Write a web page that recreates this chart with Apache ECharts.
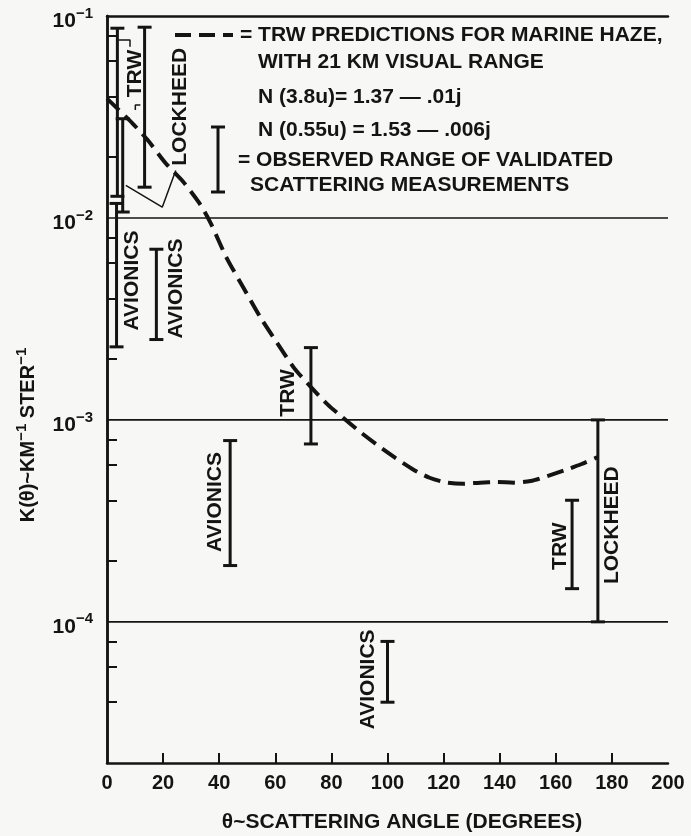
<!DOCTYPE html>
<html>
<head>
<meta charset="utf-8">
<script src="https://cdn.jsdelivr.net/npm/echarts@6/dist/echarts.min.js"></script>
<style>
html, body { margin: 0; padding: 0; background: #f7f7f5; }
#chart { width: 691px; height: 836px; }
</style>
</head>
<body>
<div id="chart"></div>
<script>
// TRW prediction for marine haze, 21 km visual range (dashed curve)
var curveAngle = [0, 4, 9, 14.5, 21, 27, 33, 37, 42.5, 48.7, 54.8, 60.7, 66.8, 72.8, 78.7, 83.6, 90.8, 100,
  109, 115, 121, 127, 133, 139, 145, 151, 157, 163, 169, 175]
var curveK = [0.039, 0.0345, 0.0295, 0.0243, 0.0186, 0.0152, 0.0118, 0.0094, 0.0064, 0.0045, 0.0032, 0.0024,
  0.0018, 0.00145, 0.00119, 0.00104, 0.00086, 0.00069, 0.00057, 0.000517, 0.00049, 0.000483, 0.000489,
  0.000492, 0.000489, 0.000498, 0.000527, 0.000562, 0.000603, 0.000655]

// observed ranges of validated scattering measurements (I bars)
var barSource = ['TRW', 'LOCKHEED', 'AVIONICS', 'TRW', 'AVIONICS', 'AVIONICS', 'TRW', 'AVIONICS', 'TRW', 'LOCKHEED']
var barAngle = [3.7, 5.6, 3.4, 13.4, 17.6, 43.9, 72.7, 100, 165.8, 175]
var barLow = [0.0128, 0.0107, 0.0023, 0.0142, 0.0025, 0.00019, 0.00076, 0.00004, 0.000146, 0.0001]
var barHigh = [0.087, 0.031, 0.0118, 0.088, 0.007, 0.00079, 0.00228, 0.00008, 0.0004, 0.001]

// source labels next to the bars
var labelText = ['TRW', 'LOCKHEED', 'AVIONICS', 'AVIONICS', 'TRW', 'AVIONICS', 'TRW', 'LOCKHEED', 'AVIONICS']
var labelAngle = [10.2, 26.2, 8.9, 24.7, 64.5, 38.4, 161.7, 180.1, 93.2]
var labelK = [0.0519, 0.0355, 0.0049, 0.00447, 0.00136, 0.000392, 0.000237, 0.000301, 0.0000519]

// leader lines from the labels
var lockheedLeader = [[24.5, 0.0172], [19.7, 0.0113], [6.7, 0.0145]]
var trwBracketTop = [[4.1, 0.076], [8.2, 0.076], [8.2, 0.0705]]
var trwBracketBottom = [[11.9, 0.0362], [10.1, 0.0362], [10.1, 0.0342]]

var xTicks = [20, 40, 60, 80, 100, 120, 140, 160, 180]
var yLabels = [0.1, 0.01, 0.001, 0.0001]
var yMinorTicks = [0.08, 0.06, 0.04, 0.02, 0.008, 0.006, 0.004, 0.002,
  0.0008, 0.0006, 0.0004, 0.0002, 0.00008, 0.00006, 0.00004]
var gridValues = [0.01, 0.001, 0.0001]

var ink = '#141414'
var font = '"Liberation Sans", Arial, sans-serif'

var chart = echarts.init(document.getElementById('chart'))

function leader(points) {
  return {
    type: 'line',
    data: points,
    symbol: 'none',
    silent: true,
    z: 3,
    lineStyle: { color: ink, width: 1.5 }
  }
}

function legendText(x, y, text) {
  return {
    type: 'text', x: x, y: y,
    style: { text: text, fill: ink, fontSize: 21, fontWeight: 'bold', fontFamily: font, verticalAlign: 'middle' }
  }
}

chart.setOption({
  backgroundColor: '#f7f7f5',
  animation: false,
  grid: {
    left: 107,
    right: 23,
    top: 16,
    bottom: 73,
    containLabel: false,
    outerBoundsMode: 'none'
  },
  xAxis: [{
    type: 'value',
    min: 0,
    max: 200,
    interval: 20,
    axisLine: { lineStyle: { color: ink, width: 2.5 } },
    axisTick: { inside: true, length: 10, customValues: xTicks, lineStyle: { color: ink, width: 2 } },
    axisLabel: { margin: 10, color: ink, fontSize: 20, fontWeight: 'bold', fontFamily: font },
    splitLine: { show: false }
  }, {
    type: 'value',
    position: 'top',
    min: 0,
    max: 200,
    axisLine: { show: true, lineStyle: { color: ink, width: 2.5 } },
    axisTick: { show: false },
    axisLabel: { show: false },
    splitLine: { show: false }
  }],
  yAxis: [{
    type: 'log',
    logBase: 10,
    min: 0.00002,
    max: 0.1,
    axisLine: { show: true, lineStyle: { color: ink, width: 2.5 } },
    axisTick: { inside: true, length: 10, customValues: yMinorTicks, lineStyle: { color: ink, width: 2 } },
    axisLabel: {
      customValues: yLabels,
      margin: 14,
      padding: [10, 0, 0, 0],
      color: ink,
      formatter: function (v) {
        var e = Math.round(Math.log(v) / Math.LN10)
        return '{b|10}{s|\u2212' + (-e) + '}'
      },
      rich: {
        b: { fontSize: 21, fontWeight: 'bold', fontFamily: font, color: ink, lineHeight: 30 },
        s: { fontSize: 15, fontWeight: 'bold', fontFamily: font, color: ink, verticalAlign: 'top', lineHeight: 15 }
      }
    },
    splitLine: { show: false },
    minorTick: { show: false }
  }, {
    type: 'log',
    logBase: 10,
    position: 'right',
    min: 0.00002,
    max: 0.1,
    axisLine: { show: true, lineStyle: { color: ink, width: 2.5 } },
    axisTick: { show: false },
    axisLabel: { show: false },
    splitLine: { show: false }
  }],
  graphic: [
    // legend: dashed curve
    { type: 'line', shape: { x1: 175, y1: 35, x2: 233, y2: 35 },
      style: { stroke: ink, lineWidth: 4, lineDash: [16, 8] } },
    legendText(240, 35, '= TRW PREDICTIONS FOR MARINE HAZE,'),
    legendText(258, 62, 'WITH 21 KM VISUAL RANGE'),
    legendText(258, 97, 'N (3.8u)= 1.37 \u2014 .01j'),
    legendText(258, 130, 'N (0.55u) = 1.53 \u2014 .006j'),
    // legend: I bar
    { type: 'line', shape: { x1: 218, y1: 127, x2: 218, y2: 192 }, style: { stroke: ink, lineWidth: 3 } },
    { type: 'line', shape: { x1: 211, y1: 127, x2: 225, y2: 127 }, style: { stroke: ink, lineWidth: 3 } },
    { type: 'line', shape: { x1: 211, y1: 192, x2: 225, y2: 192 }, style: { stroke: ink, lineWidth: 3 } },
    legendText(238, 160, '= OBSERVED RANGE OF VALIDATED'),
    legendText(250, 185, 'SCATTERING MEASUREMENTS'),
    // axis names
    { type: 'text', x: 402, y: 822, style: { text: '\u03b8~SCATTERING ANGLE (DEGREES)', fill: ink,
      fontSize: 21, fontWeight: 'bold', fontFamily: font, align: 'center', verticalAlign: 'middle' } },
    { type: 'text', x: 28, y: 435, rotation: Math.PI / 2,
      style: {
        text: '{m|K(\u03b8)~KM}{s|\u22121}{m| STER}{s|\u22121}',
        align: 'center',
        verticalAlign: 'middle',
        rich: {
          m: { fontSize: 20, fontWeight: 'bold', fontFamily: font, fill: ink, lineHeight: 28 },
          s: { fontSize: 15, fontWeight: 'bold', fontFamily: font, fill: ink, verticalAlign: 'top', lineHeight: 15 }
        }
      } }
  ],
  series: [{
    // decade grid lines across the plot
    name: 'Decades',
    type: 'custom',
    silent: true,
    z: 1,
    data: gridValues,
    renderItem: function (params, api) {
      var a = api.coord([0, api.value(0)])
      var b = api.coord([200, api.value(0)])
      return { type: 'line', shape: { x1: a[0], y1: a[1], x2: b[0], y2: b[1] }, style: { stroke: ink, lineWidth: 1.6 } }
    }
  }, {
    name: 'TRW prediction',
    type: 'line',
    data: curveAngle.map(function (a, i) { return [a, curveK[i]] }),
    smooth: 0.25,
    symbol: 'none',
    z: 4,
    lineStyle: { color: ink, width: 4, type: [17, 8] }
  }, {
    name: 'Observed range',
    type: 'custom',
    data: barAngle.map(function (a, i) { return [a, barLow[i], barHigh[i]] }),
    z: 5,
    renderItem: function (params, api) {
      var top = api.coord([api.value(0), api.value(2)])
      var bot = api.coord([api.value(0), api.value(1)])
      var half = 7
      var st = { stroke: ink, lineWidth: 3 }
      return {
        type: 'group',
        children: [
          { type: 'line', shape: { x1: top[0], y1: top[1], x2: bot[0], y2: bot[1] }, style: st },
          { type: 'line', shape: { x1: top[0] - half, y1: top[1], x2: top[0] + half, y2: top[1] }, style: st },
          { type: 'line', shape: { x1: bot[0] - half, y1: bot[1], x2: bot[0] + half, y2: bot[1] }, style: st }
        ]
      }
    }
  }, {
    name: 'Source labels',
    type: 'custom',
    data: labelAngle.map(function (a, i) { return [a, labelK[i]] }),
    z: 5,
    renderItem: function (params, api) {
      var p = api.coord([api.value(0), api.value(1)])
      return {
        type: 'text',
        x: p[0],
        y: p[1],
        rotation: Math.PI / 2,
        style: {
          text: labelText[params.dataIndex],
          fill: ink,
          fontSize: 21,
          fontWeight: 'bold',
          fontFamily: font,
          align: 'center',
          verticalAlign: 'middle'
        }
      }
    }
  },
  leader(lockheedLeader),
  leader(trwBracketTop),
  leader(trwBracketBottom)
  ]
})
</script>
</body>
</html>
